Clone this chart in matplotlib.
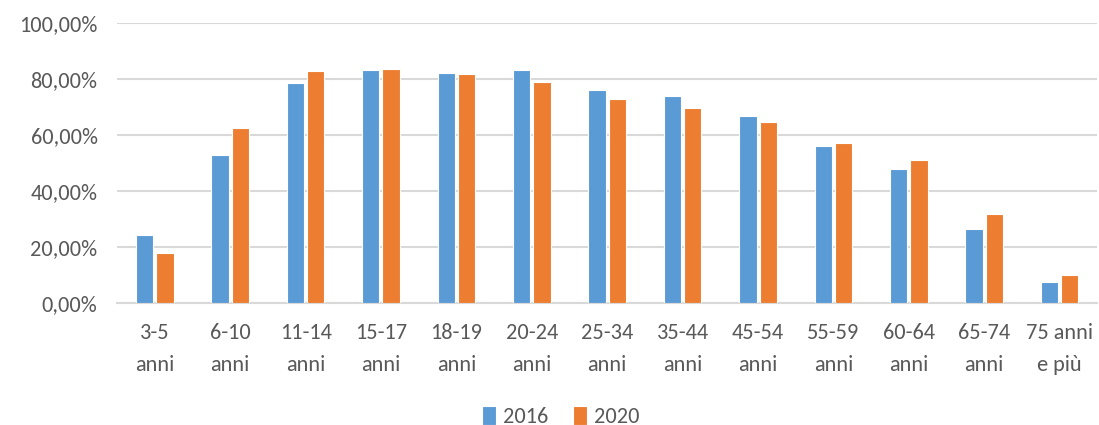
import matplotlib
matplotlib.use("Agg")
import matplotlib.pyplot as plt
import numpy as np
from matplotlib.ticker import FuncFormatter
from matplotlib import font_manager

categories = ["3-5\nanni", "6-10\nanni", "11-14\nanni", "15-17\nanni", "18-19\nanni",
              "20-24\nanni", "25-34\nanni", "35-44\nanni", "45-54\nanni", "55-59\nanni",
              "60-64\nanni", "65-74\nanni", "75 anni\ne più"]
values_2016 = [24.3, 52.8, 78.6, 83.3, 82.4, 83.3, 76.0, 73.9, 66.7, 56.1, 47.9, 26.4, 7.4]
values_2020 = [17.7, 62.4, 83.1, 83.6, 81.9, 79.0, 72.9, 69.7, 64.7, 57.2, 51.1, 31.8, 9.9]
series_names = ["2016", "2020"]
yticks = [0, 20, 40, 60, 80, 100]

available = {f.name for f in font_manager.fontManager.ttflist}
family = "DejaVu Sans"
for cand in ["Carlito", "Liberation Sans Narrow", "Roboto Condensed", "Open Sans Condensed",
             "Archivo Narrow", "PT Sans Narrow", "Liberation Sans"]:
    if cand in available:
        family = cand
        break
plt.rcParams["font.family"] = [family, "DejaVu Sans"]

text_color = "#595959"
grid_color = "#d9d9d9"
colors = ["#5B9BD5", "#ED7D31"]

fig = plt.figure(figsize=(10.99, 4.25), dpi=100)
ax = fig.add_axes([0.1065, 0.288, 0.892, 0.657])

x = np.arange(len(categories))
w = 0.23
for i, (vals, c, name) in enumerate(zip([values_2016, values_2020], colors, series_names)):
    offs = (i - 0.5) * (w + 0.04)
    ax.bar(x + offs, vals, width=w, color=c, edgecolor="white", linewidth=0.8,
           label=name, zorder=3)

ax.set_xlim(-0.5, len(categories) - 0.5)
ax.set_ylim(0, 100)
ax.set_yticks(yticks)
ax.yaxis.set_major_formatter(FuncFormatter(lambda v, p: f"{v:.2f}%".replace(".", ",")))
ax.grid(axis="y", color=grid_color, linewidth=1.5, zorder=0)
ax.set_xticks(x)
ax.set_xticklabels(categories, linespacing=1.7)
for s in ["top", "right", "left"]:
    ax.spines[s].set_visible(False)
ax.spines["bottom"].set_color(grid_color)
ax.spines["bottom"].set_linewidth(1.5)
ax.tick_params(axis="both", length=0, colors=text_color, labelsize=16)
ax.tick_params(axis="x", pad=15)
ax.tick_params(axis="y", pad=14)

leg = fig.legend(loc="lower center", bbox_to_anchor=(0.51, -0.052), ncol=2, frameon=False,
                 fontsize=16, handlelength=0.65, handleheight=0.9, handletextpad=0.3,
                 columnspacing=1.1)
for t in leg.get_texts():
    t.set_color(text_color)

fig.savefig("out.png", dpi=100)
